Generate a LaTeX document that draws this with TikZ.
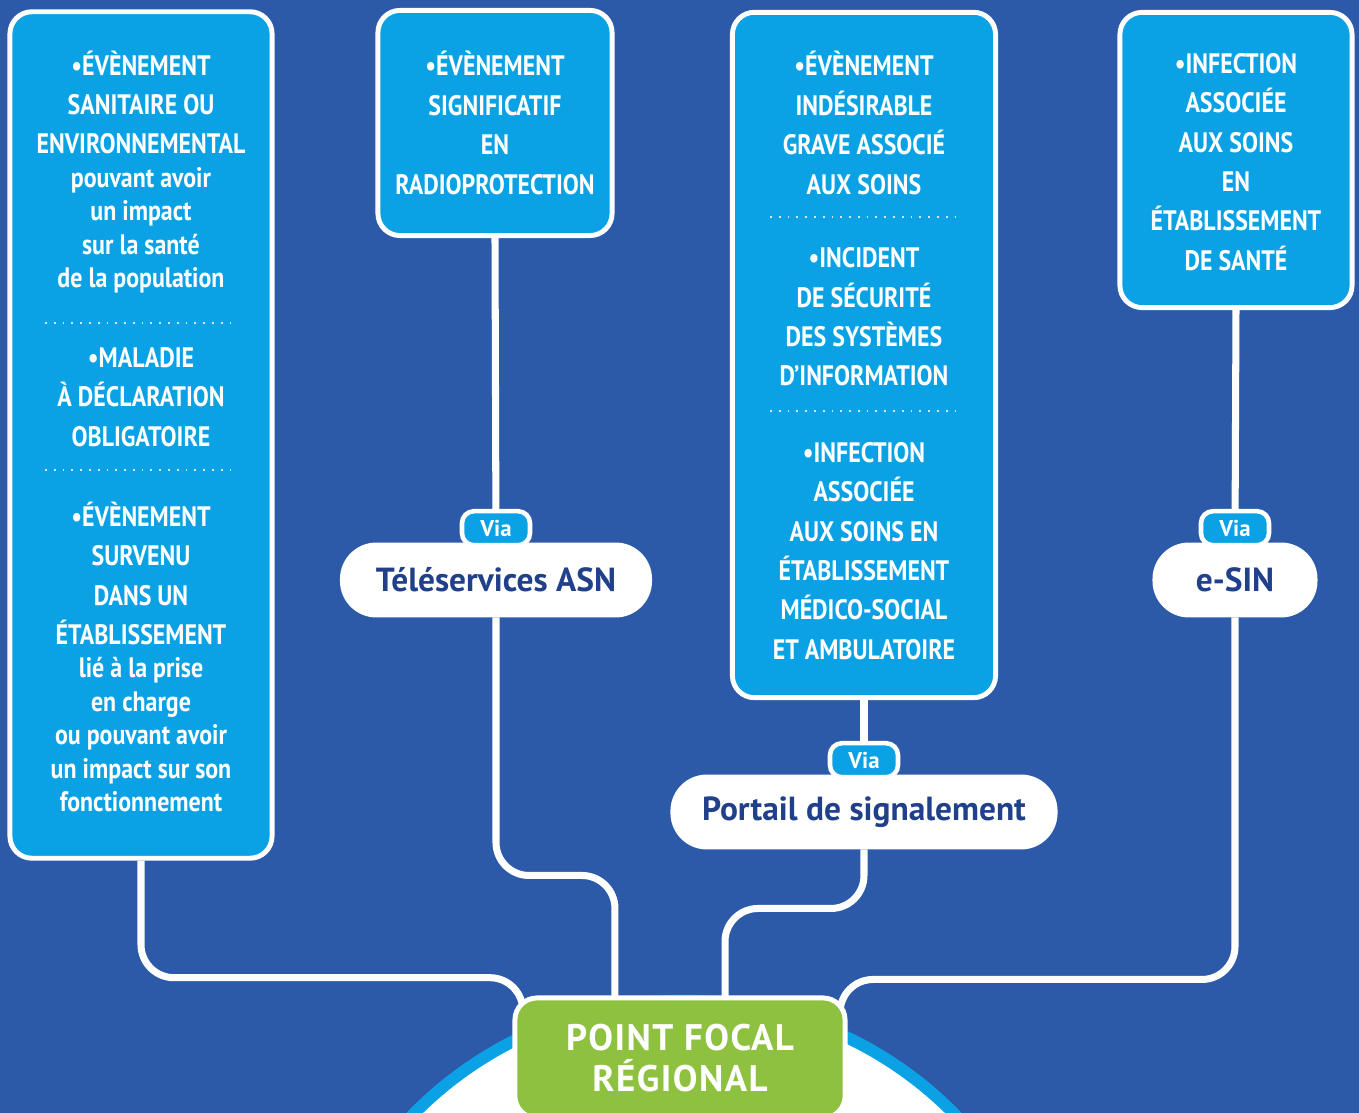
\documentclass[tikz,border=0pt]{standalone}
\usepackage{fontspec}
\setmainfont{PT Sans}
\newfontfamily\narrowfont[FakeStretch=0.85]{PT Sans}
\newfontfamily\pillfont{PT Sans}
\newfontfamily\focalfont[LetterSpace=4]{PT Sans}
\usetikzlibrary{positioning}
\definecolor{bgblue}{RGB}{44,90,168}
\definecolor{skyblue}{RGB}{10,162,228}
\definecolor{focalgreen}{RGB}{141,193,63}
\definecolor{inkblue}{RGB}{33,64,138}

\begin{document}
\begin{tikzpicture}[x=0.01cm, y=-0.01cm,
	eventbox/.style = {draw=white, line width=1.4pt, fill=skyblue, rounded corners=0.22cm, inner sep=0pt},
	eventtext/.style = {text=white, align=center, inner sep=0pt, font=\narrowfont\bfseries\fontsize{8}{11.2}\selectfont},
	channel/.style = {draw=white, line width=1.4pt, fill=white, rounded corners=0.34cm, minimum height=0.7cm, inner sep=0pt, text=inkblue, font=\pillfont\bfseries\fontsize{9.5}{11}\selectfont},
	via/.style = {draw=white, line width=1.3pt, fill=skyblue, rounded corners=0.12cm, minimum width=0.68cm, minimum height=0.34cm, inner sep=0pt, text=white, font=\bfseries\fontsize{6.5}{7}\selectfont},
	focalbox/.style = {draw=white, line width=1.4pt, fill=focalgreen, rounded corners=0.22cm, minimum width=3.3cm, minimum height=1.2cm, text=white, align=center, font=\focalfont\bfseries\fontsize{10.5}{11.8}\selectfont},
	link/.style = {draw=white, line width=2pt, rounded corners=0.33cm},
	sep/.style = {white!80!skyblue, dotted, line width=0.5pt}]
	\useasboundingbox (0,0) rectangle (1359,1113);
	\clip (0,0) rectangle (1359,1113);
	\fill[bgblue] (0,0) rectangle (1359,1113);
	\fill[skyblue] (684,1380) circle (3.85cm);
	\fill[white] (684,1380) circle (3.73cm);

	\node[eventbox, minimum width=2.62cm, minimum height=8.46cm] (ev1) at (141,435) {};
	\node[eventbox, minimum width=2.34cm, minimum height=2.25cm] (ev2) at (495,123) {};
	\node[eventbox, minimum width=2.63cm, minimum height=6.85cm] (ev3) at (864,355) {};
	\node[eventbox, minimum width=2.32cm, minimum height=2.95cm] (ev4) at (1236,160) {};

	\node[eventtext] (ev1a) at (141,172) {•ÉVÈNEMENT\\SANITAIRE OU\\ENVIRONNEMENTAL\\[-1.7pt]pouvant avoir\\[-1.7pt]un impact\\[-1.7pt]sur la santé\\[-1.7pt]de la population};
	\node[eventtext] (ev1b) at (141,397) {•MALADIE\\À DÉCLARATION\\OBLIGATOIRE};
	\node[eventtext] (ev1c) at (141,657) {•ÉVÈNEMENT\\SURVENU\\DANS UN\\ÉTABLISSEMENT\\[-1.7pt]lié à la prise\\[-1.7pt]en charge\\[-1.7pt]ou pouvant avoir\\[-1.7pt]un impact sur son\\[-1.7pt]fonctionnement};
	\node[eventtext] (ev2a) at (495,123) {•ÉVÈNEMENT\\SIGNIFICATIF\\EN\\RADIOPROTECTION};
	\node[eventtext] (ev3a) at (864,123) {•ÉVÈNEMENT\\INDÉSIRABLE\\GRAVE ASSOCIÉ\\AUX SOINS};
	\node[eventtext] (ev3b) at (864,317) {•INCIDENT\\DE SÉCURITÉ\\DES SYSTÈMES\\D’INFORMATION};
	\node[eventtext] (ev3c) at (864,551) {•INFECTION\\ASSOCIÉE\\AUX SOINS EN\\ÉTABLISSEMENT\\MÉDICO-SOCIAL\\ET AMBULATOIRE};
	\node[eventtext] (ev4a) at (1236,162) {•INFECTION\\ASSOCIÉE\\AUX SOINS\\EN\\ÉTABLISSEMENT\\DE SANTÉ};

	\draw[sep] (45,323) -- (235,323);
	\draw[sep] (45,470) -- (235,470);
	\draw[sep] (770,217) -- (958,217);
	\draw[sep] (770,411) -- (958,411);

	\node[channel, minimum width=3.07cm] (asn) at (496,580) {Téléservices ASN};
	\node[channel, minimum width=3.82cm] (portail) at (864,812) {Portail de signalement};
	\node[channel, minimum width=1.6cm] (esin) at (1235,580) {e-SIN};

	\coordinate (focalc) at (680,1058);
	\draw[link] (ev2.south) -- (asn.north);
	\draw[link] (ev3.south) -- (portail.north);
	\draw[link] (ev4.south) -- (esin.north);
	\draw[link] (ev1.south) -- ++(0,117) -| ([xshift=-1.57cm,yshift=0.3cm]focalc);
	\draw[link] (asn.south) -- ++(0,258) -| ([xshift=-0.65cm,yshift=0.3cm]focalc);
	\draw[link] (portail.south) -- ++(0,59) -| ([xshift=0.45cm,yshift=0.3cm]focalc);
	\draw[link] (esin.south) -- ++(0,362) -| ([xshift=1.6cm,yshift=0.3cm]focalc);

	\node[focalbox] (focal) at (focalc) {POINT FOCAL\\RÉGIONAL};

	\node[via, above=-0.05cm of asn] (via1) {Via};
	\node[via, above=-0.05cm of portail] (via2) {Via};
	\node[via, above=-0.05cm of esin] (via3) {Via};
\end{tikzpicture}
\end{document}
